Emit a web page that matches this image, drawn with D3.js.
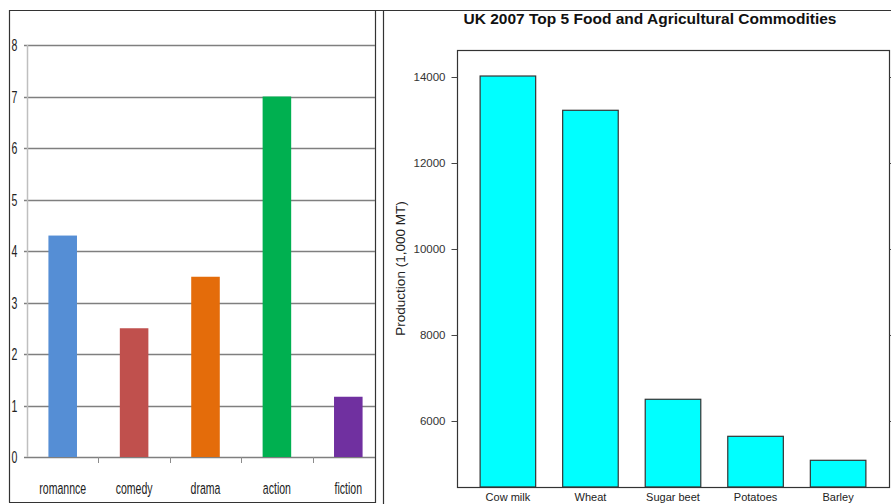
<!DOCTYPE html>
<html>
<head>
<meta charset="utf-8">
<script src="https://cdn.jsdelivr.net/npm/d3@7"></script>
<style>
  body { margin: 0; background: #fff; }
  svg { display: block; }
</style>
</head>
<body>
<svg id="chart"></svg>
<script>
// left panel: genre counts
const genres = ["romannce", "comedy", "drama", "action", "fiction"]
const genreValues = [4.3, 2.5, 3.5, 7, 1.17]
const genreColors = ["#558ed5", "#c0504d", "#e46c0a", "#00b050", "#7030a0"]
const genreTicks = [0, 1, 2, 3, 4, 5, 6, 7, 8]

// right panel: UK 2007 commodities
const crops = ["Cow milk", "Wheat", "Sugar beet", "Potatoes", "Barley"]
const cropValues = [14023, 13226, 6505, 5644, 5086]
const cropTicks = [6000, 8000, 10000, 12000, 14000]

const W = 891, H = 504

const svg = d3.select("#chart")
    .attr("width", W)
    .attr("height", H)

// ---- panel frames
svg.append("path")
    .attr("d", "M9,10.5H891M9.5,10V502.5M9,502.5H376M375.5,10V503M383.5,10V504")
    .attr("fill", "none")
    .attr("stroke", "#333")
    .attr("stroke-width", 1.2)

// ---- left chart
const xL = d3.scaleBand()
    .domain(genres)
    .range([27, 384])
    .paddingInner(0.6)
    .paddingOuter(0.3)

const yL = d3.scaleLinear()
    .domain([0, 8])
    .range([457, 45])

const left = svg.append("g")

// gridlines
left.selectAll(".grid")
    .data(genreTicks)
    .join("line")
    .attr("x1", 24)
    .attr("x2", 375)
    .attr("y1", d => Math.round(yL(d)) + 0.5)
    .attr("y2", d => Math.round(yL(d)) + 0.5)
    .attr("stroke", "#7f7f7f")
    .attr("stroke-width", 1.6)

// y axis line
left.append("line")
    .attr("x1", 27.5).attr("x2", 27.5)
    .attr("y1", yL(8)).attr("y2", yL(0))
    .attr("stroke", "#bfbfbf")
    .attr("stroke-width", 1.5)

// category tick marks
const bounds = genres.map(g => xL(g) - xL.step() * xL.paddingInner() / 2)
left.selectAll(".xtick")
    .data(bounds.slice(1))
    .join("line")
    .attr("x1", d => Math.round(d) + 0.5)
    .attr("x2", d => Math.round(d) + 0.5)
    .attr("y1", yL(0))
    .attr("y2", yL(0) + 6)
    .attr("stroke", "#8c8c8c")

left.selectAll(".bar")
    .data(genres)
    .join("rect")
    .attr("x", d => xL(d))
    .attr("width", xL.bandwidth())
    .attr("y", (d, i) => yL(genreValues[i]))
    .attr("height", (d, i) => yL(0) - yL(genreValues[i]))
    .attr("fill", (d, i) => genreColors[i])

left.selectAll(".ylab")
    .data(genreTicks)
    .join("text")
    .attr("transform", d => `translate(14.5,${yL(d) + 6}) scale(0.62,1)`)
    .attr("text-anchor", "middle")
    .attr("font-family", "Liberation Sans, Arial, sans-serif")
    .attr("font-size", 17)
    .attr("fill", "#222")
    .text(d => d)

left.selectAll(".xlab")
    .data(genres)
    .join("text")
    .attr("transform", d => `translate(${xL(d) + xL.bandwidth() / 2},494) scale(0.62,1)`)
    .attr("text-anchor", "middle")
    .attr("font-family", "Liberation Sans, Arial, sans-serif")
    .attr("font-size", 17)
    .attr("fill", "#222")
    .text(d => d)

// ---- right chart
const plot = { left: 457, right: 889, top: 50, bottom: 487 }

const xR = d3.scaleBand()
    .domain(crops)
    .range([plot.left, plot.right])
    .paddingInner(0.327)
    .paddingOuter(0.28)

const yR = d3.scaleLinear()
    .domain([4465, 14628])
    .range([plot.bottom, plot.top])

const right = svg.append("g")

right.append("text")
    .attr("x", 650)
    .attr("y", 24)
    .attr("text-anchor", "middle")
    .attr("font-family", "Liberation Sans, Arial, sans-serif")
    .attr("font-weight", "bold")
    .attr("font-size", 15.5)
    .attr("fill", "#111")
    .text("UK 2007 Top 5 Food and Agricultural Commodities")

right.selectAll(".bar")
    .data(crops)
    .join("rect")
    .attr("x", d => xR(d))
    .attr("width", xR.bandwidth())
    .attr("y", (d, i) => yR(cropValues[i]))
    .attr("height", (d, i) => plot.bottom - yR(cropValues[i]))
    .attr("fill", "#00ffff")
    .attr("stroke", "#333")
    .attr("stroke-width", 1.2)

right.append("rect")
    .attr("x", plot.left + 0.5)
    .attr("y", plot.top + 0.5)
    .attr("width", plot.right - plot.left)
    .attr("height", plot.bottom - plot.top)
    .attr("fill", "none")
    .attr("stroke", "#333")
    .attr("stroke-width", 1.2)

const yAxis = right.append("g")
    .attr("transform", `translate(${plot.left + 0.5},0)`)
    .call(d3.axisLeft(yR).tickValues(cropTicks).tickSize(6).tickPadding(6).tickFormat(d3.format("d")))
yAxis.select(".domain").remove()
yAxis.selectAll("line").attr("stroke", "#444")
yAxis.selectAll("text")
    .attr("font-family", "Liberation Sans, Arial, sans-serif")
    .attr("font-size", 11.5)
    .attr("fill", "#333")

const yAxisR = right.append("g")
    .attr("transform", `translate(${plot.right + 0.5},0)`)
    .call(d3.axisRight(yR).tickValues(cropTicks).tickSize(4).tickFormat(""))
yAxisR.select(".domain").remove()
yAxisR.selectAll("line").attr("stroke", "#444")

right.selectAll(".xlab")
    .data(crops)
    .join("text")
    .attr("x", d => xR(d) + xR.bandwidth() / 2)
    .attr("y", 501)
    .attr("text-anchor", "middle")
    .attr("font-family", "Liberation Sans, Arial, sans-serif")
    .attr("font-size", 11)
    .attr("fill", "#222")
    .text(d => d)

right.append("text")
    .attr("transform", `translate(405,${(plot.top + plot.bottom) / 2}) rotate(-90)`)
    .attr("text-anchor", "middle")
    .attr("font-family", "Liberation Sans, Arial, sans-serif")
    .attr("font-size", 13.5)
    .attr("fill", "#222")
    .text("Production (1,000 MT)")
</script>
</body>
</html>
